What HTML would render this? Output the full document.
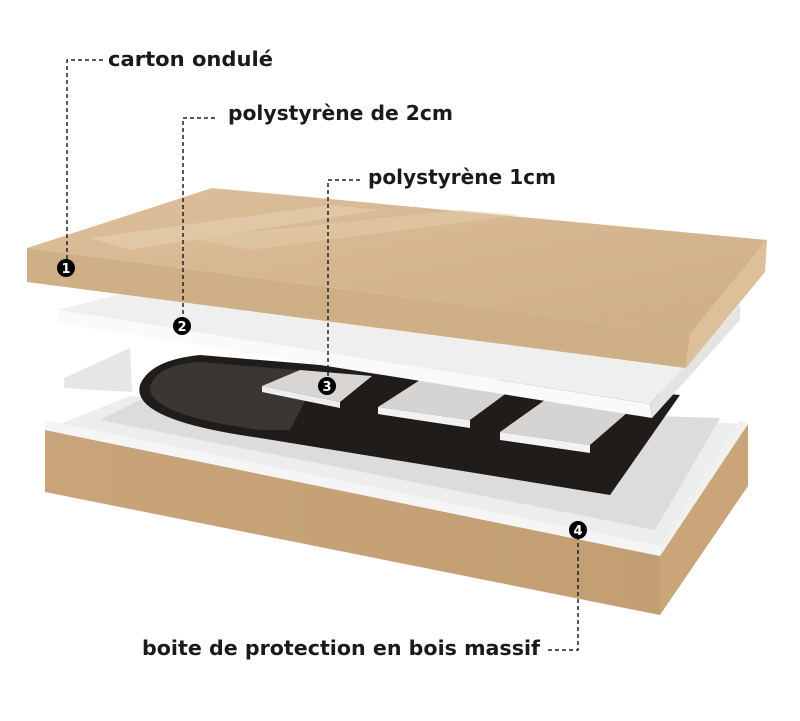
<!DOCTYPE html>
<html><head><meta charset="utf-8"><style>
html,body{margin:0;padding:0;background:#fff;}
body{width:800px;height:716px;overflow:hidden;}
text{font-family:"DejaVu Sans","Liberation Sans",sans-serif;font-weight:bold;}
</style></head><body>
<svg width="800" height="716" viewBox="0 0 800 716" xmlns="http://www.w3.org/2000/svg">
<defs>
<linearGradient id="lidTop" x1="0" y1="0" x2="1" y2="1">
<stop offset="0" stop-color="#dcc09c"/><stop offset="0.5" stop-color="#d5b690"/><stop offset="1" stop-color="#cdae88"/>
</linearGradient>
<linearGradient id="wood" x1="0" y1="0" x2="1" y2="0">
<stop offset="0" stop-color="#c9a47a"/><stop offset="1" stop-color="#c39e73"/>
</linearGradient>
</defs>

<!-- lower box -->
<polygon points="45,430 130,396 748,424 660,556" fill="#ededed"/>
<polygon points="100,420 140,400 720,418 655,530" fill="#dcdcdc"/>
<path d="M200,355 L680,395 L610,495 L260,438 Q130,420 140,385 Q150,360 200,355 Z" fill="#1f1c1a"/>
<path d="M200,362 L320,372 L290,430 L260,430 Q150,415 150,388 Q155,365 200,362 Z" fill="#3a3633"/>
<polygon points="45,430 660,556 660,615 45,492" fill="url(#wood)"/>
<polygon points="660,556 748,424 748,486 660,615" fill="#cba57a"/>
<polygon points="45,420 660,546 660,556 45,430" fill="#f5f5f5"/>
<polygon points="660,546 740,420 748,424 660,556" fill="#f0f0f0"/>
<polygon points="262,386 300,370 372,376 340,402" fill="#d8d6d4"/>
<polygon points="262,386 340,402 340,408 262,392" fill="#eee"/>
<polygon points="378,407 420,380 508,392 470,420" fill="#d6d4d2"/>
<polygon points="378,407 470,420 470,428 378,414" fill="#f2f2f2"/>
<polygon points="500,432 545,400 628,412 590,445" fill="#d6d4d2"/>
<polygon points="500,432 590,445 590,453 500,440" fill="#f2f2f2"/>
<polygon points="64,378 130,348 132,392 64,388" fill="#e6e6e6"/>

<!-- polystyrene 2cm -->
<polygon points="58,310 135,290 740,305 650,404" fill="#efefef"/>
<polygon points="58,310 650,404 652,418 58,323" fill="#fafafa"/>
<polygon points="650,404 740,305 740,320 652,418" fill="#e4e4e4"/>

<!-- lid -->
<polygon points="27,248 212,188 767,240 690,334" fill="url(#lidTop)"/>
<polygon points="90,238 330,205 380,210 130,250" fill="#e6d0b0" opacity="0.6"/>
<polygon points="190,238 460,210 520,215 250,250" fill="#e4cdaa" opacity="0.5"/>
<polygon points="27,248 690,334 686,368 27,282" fill="#cfaf86"/>
<polygon points="690,334 767,240 765,272 686,368" fill="#dcc09a"/>

<g stroke="#222" stroke-width="1.5" stroke-dasharray="4,3" fill="none">
<polyline points="103,60 67,60 67,262"/>
<polyline points="215,118 183,118 183,320"/>
<polyline points="360,180 328,180 328,380"/>
<polyline points="578,536 578,650 545,650"/>
</g>
<g fill="#000">
<circle cx="66" cy="268" r="9"/><circle cx="182" cy="326" r="9"/>
<circle cx="327" cy="386" r="9"/><circle cx="578" cy="530" r="9"/>
</g>
<g fill="#fff" font-size="13" text-anchor="middle">
<text x="66" y="273">1</text><text x="182" y="331">2</text>
<text x="327" y="391">3</text><text x="578" y="535">4</text>
</g>
<g fill="#1a1a1a" font-size="20">
<text x="108" y="66" textLength="165" lengthAdjust="spacingAndGlyphs">carton ondulé</text>
<text x="228" y="120" textLength="225" lengthAdjust="spacingAndGlyphs">polystyrène de 2cm</text>
<text x="368" y="184" textLength="188" lengthAdjust="spacingAndGlyphs">polystyrène 1cm</text>
<text x="142" y="655" textLength="398" lengthAdjust="spacingAndGlyphs">boite de protection en bois massif</text>
</g>
</svg>
</body></html>
